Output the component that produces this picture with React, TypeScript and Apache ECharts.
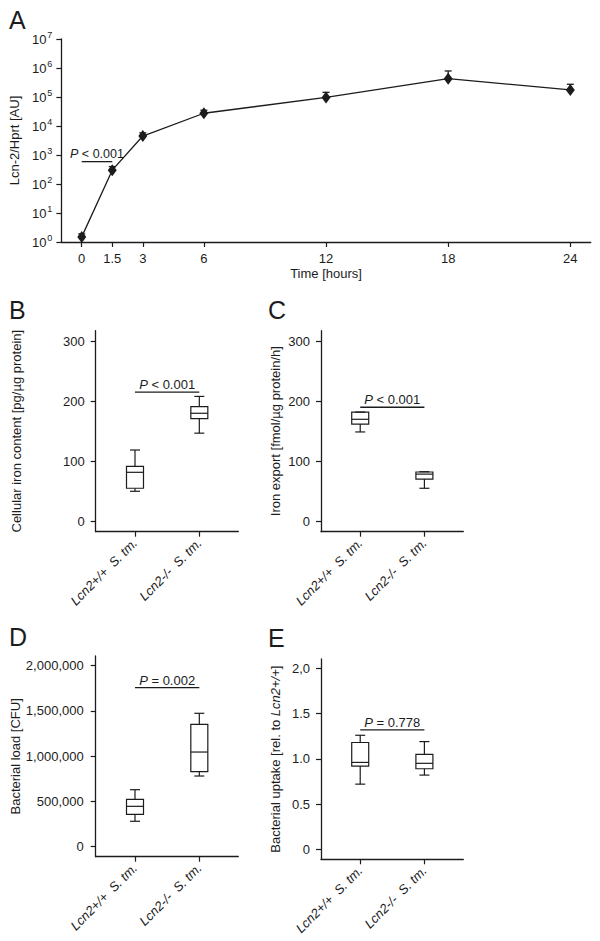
import React, { useEffect, useRef } from 'react';
import * as echarts from 'echarts';

const FONT = '"Liberation Sans", Arial, Helvetica, sans-serif';
const INK = '#1c1c1c';

// ---- Panel A: Lcn-2/Hprt time course ----
const timeHours = [0, 1.5, 3, 6, 12, 18, 24];
const lcn2Mean = [1.5, 300, 4500, 27500, 97000, 430000, 175000];
const lcn2Upper = [1.9, 400, 5800, 35000, 145000, 790000, 275000];
const timeTicks = [0, 1.5, 3, 6, 12, 18, 24];
const sigA = [0, 1.5, 590];
const sigALabel = ' < 0.001';

// ---- Panels B–E: box plots (min, Q1, median, Q3, max) ----
const groupLabels = ['Lcn2+/+  S. tm.', 'Lcn2-/-  S. tm.'];
const ironContent = [
  [50.5, 55.5, 82, 92, 119],
  [147, 171, 180, 191, 208],
];
const ironExport = [
  [149, 162, 170, 182, 182],
  [55.5, 70.7, 79, 82.5, 83],
];
const bacterialLoad = [
  [281000, 358000, 446000, 524000, 630000],
  [781000, 829000, 1046000, 1352000, 1474000],
];
const bacterialUptake = [
  [0.72, 0.92, 0.96, 1.18, 1.26],
  [0.82, 0.89, 0.95, 1.05, 1.19],
];
const ticksIron = [0, 100, 200, 300];
const ticksLoad = [0, 500000, 1000000, 1500000, 2000000];
const ticksUptake = [0, 0.5, 1.0, 1.5, 2.0];
const ticksUptakeLabels = ['0', '0.5', '1.0', '1.5', '2,0'];

const sigB = [0, 1, 215];
const sigBLabel = ' < 0.001';
const sigC = [0, 1, 190];
const sigCLabel = ' < 0.001';
const sigD = [0, 1, 1757000];
const sigDLabel = ' = 0.002';
const sigE = [0, 1, 1.32];
const sigELabel = ' = 0.778';

const axisLineStyle = { lineStyle: { color: INK, width: 1.3 }, onZero: false };
const tickStyle = { lineStyle: { color: INK, width: 1.2 }, length: 5 };
const labelBase = { color: INK, fontFamily: FONT, fontSize: 13 };

function boxRender(params: any, api: any) {
  const x = api.value(0);
  const v = [1, 2, 3, 4, 5].map((i) => api.value(i));
  const ys = v.map((val) => api.coord([x, val])[1]);
  const [lo, q1, med, q3, hi] = ys;
  const cx = api.coord([x, v[0]])[0];
  const hw = 8.5;
  const cw = 5;
  const st = { stroke: INK, lineWidth: 1.2, fill: null };
  return {
    type: 'group',
    children: [
      { type: 'rect', shape: { x: cx - hw, y: q3, width: 2 * hw, height: q1 - q3 }, style: { stroke: INK, lineWidth: 1.2, fill: '#fff' } },
      { type: 'line', shape: { x1: cx - hw, y1: med, x2: cx + hw, y2: med }, style: st },
      { type: 'line', shape: { x1: cx, y1: q3, x2: cx, y2: hi }, style: st },
      { type: 'line', shape: { x1: cx - cw, y1: hi, x2: cx + cw, y2: hi }, style: st },
      { type: 'line', shape: { x1: cx, y1: q1, x2: cx, y2: lo }, style: st },
      { type: 'line', shape: { x1: cx - cw, y1: lo, x2: cx + cw, y2: lo }, style: st },
    ],
  };
}

function sigRender(label: string, fontSize: number) {
  return (params: any, api: any) => {
    const p0 = api.coord([api.value(0), api.value(2)]);
    const p1 = api.coord([api.value(1), api.value(2)]);
    return {
      type: 'group',
      children: [
        { type: 'line', shape: { x1: p0[0], y1: p0[1], x2: p1[0], y2: p1[1] }, style: { stroke: INK, lineWidth: 1.3 } },
        {
          type: 'text',
          x: (p0[0] + p1[0]) / 2,
          y: p0[1] - 1,
          style: {
            text: '{i|P}{n|' + label + '}',
            align: 'center',
            verticalAlign: 'bottom',
            fontFamily: FONT,
            fontSize,
            fill: INK,
            rich: {
              i: { fontStyle: 'italic', fontFamily: FONT, fontSize, fill: INK },
              n: { fontFamily: FONT, fontSize, fill: INK },
            },
          },
        },
      ],
    };
  };
}

function boxData(stats: number[][]) {
  return stats.map((s, i) => [i, ...s]);
}

const catX = (gi: number) => ({
  type: 'value',
  gridIndex: gi,
  min: -0.611,
  max: 1.606,
  axisLine: axisLineStyle,
  axisTick: { ...tickStyle, customValues: [0, 1] },
  axisLabel: {
    ...labelBase,
    fontStyle: 'italic',
    customValues: [0, 1],
    rotate: 45,
    margin: 9,
    formatter: (v: number) => groupLabels[Math.round(v)],
  },
  splitLine: { show: false },
});

const letter = (t: string, x: number, y: number) => ({
  type: 'text',
  left: x,
  top: y,
  style: { text: t, fontFamily: FONT, fontSize: 25, fill: INK },
});

export default function App() {
  const ref = useRef<HTMLDivElement>(null);
  useEffect(() => {
    document.body.style.margin = '0';
    if (!ref.current) return;
    const chart = echarts.init(ref.current, null, { renderer: 'svg' });
    const nameStyle = { color: INK, fontFamily: FONT, fontSize: 13 };
    const option: any = {
      animation: false,
      backgroundColor: '#fff',
      textStyle: { fontFamily: FONT },
      graphic: [
        letter('A', 9, 7),
        letter('B', 9, 297),
        letter('C', 268, 297),
        letter('D', 9, 624),
        letter('E', 268, 625),
      ],
      grid: [
        { left: 60, top: 39, width: 530.7, height: 203 },
        { left: 95.7, top: 330.7, width: 142.6, height: 201 },
        { left: 321, top: 330.7, width: 142.3, height: 201 },
        { left: 95.7, top: 656, width: 142.6, height: 200.7 },
        { left: 321, top: 659, width: 142.3, height: 200.3 },
      ],
      xAxis: [
        {
          type: 'value',
          gridIndex: 0,
          min: -1,
          max: 25,
          axisLine: axisLineStyle,
          axisTick: { ...tickStyle, customValues: timeTicks },
          axisLabel: { ...labelBase, customValues: timeTicks, margin: 10, formatter: (v: number) => String(v) },
          splitLine: { show: false },
          name: 'Time [hours]',
          nameLocation: 'middle',
          nameGap: 25,
          nameTextStyle: nameStyle,
        },
        catX(1),
        catX(2),
        catX(3),
        catX(4),
      ],
      yAxis: [
        {
          type: 'log',
          logBase: 10,
          gridIndex: 0,
          min: 1,
          max: 1e7,
          splitNumber: 7,
          axisLine: axisLineStyle,
          axisTick: tickStyle,
          minorTick: { show: false },
          axisLabel: {
            ...labelBase,
            margin: 9,
            formatter: (v: number) => '{b|10}{s|' + Math.round(Math.log10(v)) + '}',
            rich: {
              b: { fontFamily: FONT, fontSize: 13, color: INK },
              s: { fontFamily: FONT, fontSize: 9, color: INK, padding: [0, 0, 8, 1] },
            },
          },
          splitLine: { show: false },
          name: 'Lcn-2/Hprt [AU]',
          nameLocation: 'middle',
          nameGap: 36,
          nameTextStyle: nameStyle,
        },
        {
          type: 'value',
          gridIndex: 1,
          min: -16.6,
          max: 317.1,
          axisLine: axisLineStyle,
          axisTick: { ...tickStyle, customValues: ticksIron },
          axisLabel: { ...labelBase, customValues: ticksIron, margin: 11 },
          splitLine: { show: false },
          name: 'Cellular iron content [pg/µg protein]',
          nameLocation: 'middle',
          nameGap: 73,
          nameTextStyle: nameStyle,
        },
        {
          type: 'value',
          gridIndex: 2,
          min: -16.6,
          max: 317.1,
          axisLine: axisLineStyle,
          axisTick: { ...tickStyle, customValues: ticksIron },
          axisLabel: { ...labelBase, customValues: ticksIron, margin: 11 },
          splitLine: { show: false },
          name: 'Iron export [fmol/µg protein/h]',
          nameLocation: 'middle',
          nameGap: 39,
          nameTextStyle: nameStyle,
        },
        {
          type: 'value',
          gridIndex: 3,
          min: -110500,
          max: 2107200,
          axisLine: axisLineStyle,
          axisTick: { ...tickStyle, customValues: ticksLoad },
          axisLabel: {
            ...labelBase,
            customValues: ticksLoad,
            margin: 12,
            formatter: (v: number) => Math.round(v).toLocaleString('en-US'),
          },
          splitLine: { show: false },
          name: 'Bacterial load [CFU]',
          nameLocation: 'middle',
          nameGap: 73,
          nameTextStyle: nameStyle,
        },
        {
          type: 'value',
          gridIndex: 4,
          min: -0.1105,
          max: 2.1028,
          axisLine: axisLineStyle,
          axisTick: { ...tickStyle, customValues: ticksUptake },
          axisLabel: {
            ...labelBase,
            customValues: ticksUptake,
            margin: 11,
            formatter: (v: number) => {
              const i = ticksUptake.findIndex((t) => Math.abs(t - v) < 1e-6);
              return i >= 0 ? ticksUptakeLabels[i] : '';
            },
          },
          splitLine: { show: false },
          name: '{n|Bacterial uptake [rel. to }{i|Lcn2+/+}{n|]}',
          nameLocation: 'middle',
          nameGap: 39,
          nameTextStyle: {
            ...nameStyle,
            rich: {
              n: { fontFamily: FONT, fontSize: 13, color: INK },
              i: { fontFamily: FONT, fontSize: 13, color: INK, fontStyle: 'italic' },
            },
          },
        },
      ],
      series: [
        {
          type: 'custom',
          xAxisIndex: 0,
          yAxisIndex: 0,
          z: 1,
          data: timeHours.map((t, i) => [t, lcn2Mean[i], lcn2Upper[i]]),
          renderItem: (params: any, api: any) => {
            const t = api.value(0);
            const pm = api.coord([t, api.value(1)]);
            const pu = api.coord([t, api.value(2)]);
            return {
              type: 'group',
              children: [
                { type: 'line', shape: { x1: pm[0], y1: pm[1], x2: pu[0], y2: pu[1] }, style: { stroke: INK, lineWidth: 1.3 } },
                { type: 'line', shape: { x1: pu[0] - 3.5, y1: pu[1], x2: pu[0] + 3.5, y2: pu[1] }, style: { stroke: INK, lineWidth: 1.3 } },
              ],
            };
          },
        },
        {
          type: 'line',
          xAxisIndex: 0,
          yAxisIndex: 0,
          z: 3,
          data: timeHours.map((t, i) => [t, lcn2Mean[i]]),
          symbol: 'diamond',
          symbolSize: [9, 12],
          itemStyle: { color: INK },
          lineStyle: { color: INK, width: 1.3 },
        },
        { type: 'custom', xAxisIndex: 0, yAxisIndex: 0, data: [sigA], renderItem: sigRender(sigALabel, 12.5) },
        { type: 'custom', xAxisIndex: 1, yAxisIndex: 1, data: boxData(ironContent), renderItem: boxRender },
        { type: 'custom', xAxisIndex: 1, yAxisIndex: 1, data: [sigB], renderItem: sigRender(sigBLabel, 13) },
        { type: 'custom', xAxisIndex: 2, yAxisIndex: 2, data: boxData(ironExport), renderItem: boxRender },
        { type: 'custom', xAxisIndex: 2, yAxisIndex: 2, data: [sigC], renderItem: sigRender(sigCLabel, 13) },
        { type: 'custom', xAxisIndex: 3, yAxisIndex: 3, data: boxData(bacterialLoad), renderItem: boxRender },
        { type: 'custom', xAxisIndex: 3, yAxisIndex: 3, data: [sigD], renderItem: sigRender(sigDLabel, 13) },
        { type: 'custom', xAxisIndex: 4, yAxisIndex: 4, data: boxData(bacterialUptake), renderItem: boxRender },
        { type: 'custom', xAxisIndex: 4, yAxisIndex: 4, data: [sigE], renderItem: sigRender(sigELabel, 13) },
      ],
    };
    chart.setOption(option);
    return () => chart.dispose();
  }, []);
  return <div ref={ref} style={{ width: 600, height: 941 }} />;
}
